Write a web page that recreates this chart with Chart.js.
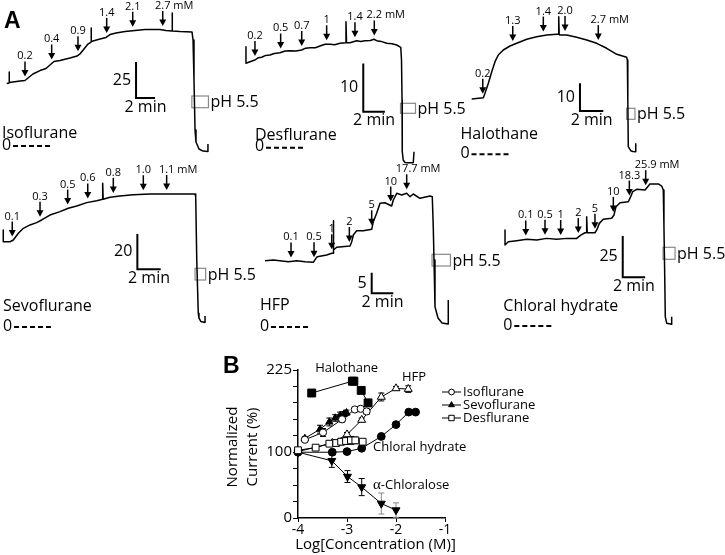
<!DOCTYPE html>
<html>
<head>
<meta charset="utf-8">
<script src="https://cdn.jsdelivr.net/npm/chart.js@4.4.1/dist/chart.umd.min.js"></script>
<style>
  body { margin: 0; background: #fff; width: 725px; height: 555px; position: relative; overflow: hidden; }
  canvas { position: absolute; }
</style>
</head>
<body>
<canvas id="cIso" width="280" height="165" style="left:0;top:0"></canvas>
<canvas id="cDes" width="280" height="165" style="left:230px;top:0"></canvas>
<canvas id="cHal" width="265" height="165" style="left:460px;top:0"></canvas>
<canvas id="cSev" width="280" height="180" style="left:0;top:160px"></canvas>
<canvas id="cHfp" width="280" height="180" style="left:230px;top:160px"></canvas>
<canvas id="cChl" width="265" height="180" style="left:460px;top:160px"></canvas>
<canvas id="cDose" width="360" height="215" style="left:200px;top:340px"></canvas>
<script>
// ---- panel A: current traces, [time (min), current] ----
var isoTrace = [[0.71,42.7],[0.95,43.1],[0.95,50.7],[1.0,43.4],[2.11,44.4],[2.63,44.8],[2.95,46.5],[3.47,49.3],[4.21,51.7],[4.84,53.1],[5.26,55.6],[5.68,58.0],[6.32,58.7],[7.37,60.4],[8.11,61.8],[8.42,63.2],[8.84,66.7],[9.26,70.1],[9.58,71.5],[9.58,81.3],[9.63,71.9],[10.53,73.6],[11.16,74.7],[11.58,76.7],[12.21,77.8],[13.16,78.8],[14.21,79.5],[15.26,80.2],[16.84,80.2],[17.47,79.5],[18.11,79.2],[18.11,91.7],[18.16,79.2],[18.95,78.8],[20.21,78.5],[20.32,72.9],[20.42,45.1],[20.53,10.4],[20.63,2.1],[20.95,-2.8],[21.37,-4.2],[21.89,-4.5],[21.89,0.7]];
var isoDoses = ['0.2','0.4','0.9','1.4','2.1','2.7'];
var isoDoseTimes = [2.63, 5.44, 8.21, 11.23, 13.97, 17.13];

var desTrace = [[1.48,20.70],[1.48,17.27],[1.85,17.60],[2.31,17.95],[2.6,18.4],[2.94,18.51],[3.3,18.9],[3.70,18.99],[4.1,19.3],[4.63,19.46],[5.1,19.8],[5.56,19.88],[6.1,19.8],[6.64,20.02],[7.0,20.4],[7.41,20.50],[7.9,20.5],[8.33,20.85],[8.8,21.2],[9.26,21.20],[9.7,21.1],[10.19,21.41],[10.74,21.53],[10.74,25.88],[10.79,21.53],[11.11,21.53],[11.73,21.95],[12.1,21.8],[12.50,21.95],[13.0,22.0],[13.33,22.24],[13.58,21.95],[14.0,21.8],[14.51,21.41],[15.0,21.3],[15.44,21.06],[15.81,20.58],[15.88,17.95],[15.93,9.67],[15.95,-1.04],[16.04,-2.75],[16.20,-3.27],[16.51,-3.31],[16.97,-3.31],[17.04,-1.04]];
var desDoses = ['0.2','0.5','0.7','1','1.4','2.2'];
var desDoseTimes = [2.31, 4.69, 6.64, 8.95, 11.57, 13.36];

var halTrace = [[1.00,19.6],[2.00,20.07],[2.14,21.66],[2.43,25.27],[2.72,29.46],[3.00,33.07],[3.28,35.49],[3.71,37.29],[4.28,38.74],[4.86,39.71],[5.72,41.16],[6.57,42.09],[7.43,42.71],[8.29,42.96],[8.46,42.96],[8.46,49.31],[8.50,42.89],[8.57,42.71],[9.14,42.71],[10.00,41.88],[10.86,40.90],[11.71,39.71],[12.57,37.91],[13.43,35.74],[14.28,34.66],[14.34,33.68],[14.38,19.24],[14.42,2.38],[14.63,0.94],[14.82,0.65],[15.06,0.58],[15.06,3.61]];
var halDoses = ['0.2','1.3','1.4','2.0','2.7'];
var halDoseTimes = [1.95, 4.52, 7.14, 9.00, 11.85];

var sevTrace = [[0.28,54.2],[0.28,47.6],[0.86,47.6],[1.14,48.6],[1.57,52.4],[2.00,55.2],[2.57,57.1],[3.14,58.4],[3.57,59.9],[4.28,62.7],[5.14,64.6],[5.85,66.5],[6.57,67.8],[7.43,69.7],[8.29,70.8],[8.80,71.6],[8.80,80.6],[8.84,71.6],[9.43,72.7],[10.28,73.4],[11.42,74.2],[12.85,74.6],[14.28,74.6],[15.71,74.6],[16.71,74.6],[16.77,73.1],[16.86,37.3],[16.99,7.2],[17.05,4.5],[17.22,2.5],[17.57,2.0],[17.57,5.6]];
var sevDoses = ['0.1','0.3','0.5','0.6','0.8','1.0','1.1'];
var sevDoseTimes = [1.05, 3.43, 5.80, 7.52, 9.71, 12.28, 14.28];

var hfpTrace = [[3.24,15.81],[4.01,15.98],[4.63,15.81],[5.40,15.57],[6.18,15.81],[6.94,15.57],[7.71,15.42],[7.96,16.39],[8.08,16.78],[8.95,17.19],[9.42,17.60],[9.56,17.60],[9.56,25.50],[9.61,18.40],[9.88,19.06],[11.11,19.37],[11.27,20.41],[11.42,22.03],[11.73,23.08],[12.34,23.08],[13.12,23.41],[13.27,25.25],[13.58,27.29],[13.89,29.71],[14.35,29.85],[14.97,29.06],[15.12,30.51],[15.44,32.13],[15.90,31.72],[16.36,32.13],[16.67,31.31],[16.97,31.96],[17.59,30.92],[18.52,31.48],[18.73,31.31],[18.82,24.04],[18.89,15.98],[18.98,4.67],[19.26,1.94],[19.63,0.73],[20.19,0.48],[20.21,6.30]];
var hfpDoses = ['0.1','0.5','1','2','5','10','17.7'];
var hfpDoseTimes = [5.65, 7.78, 9.42, 11.05, 13.12, 14.88, 16.36];

var chlTrace = [[4.02,57.6],[4.02,48.5],[4.31,50.5],[5.06,51.1],[5.96,51.9],[6.85,51.5],[7.74,52.5],[8.63,51.9],[9.53,52.5],[10.42,52.5],[10.78,54.5],[11.16,55.9],[11.31,55.9],[11.31,65.6],[11.36,55.9],[11.46,55.9],[12.05,55.9],[12.21,57.6],[12.44,61.6],[12.79,64.1],[13.54,64.7],[13.75,66.7],[13.93,71.7],[14.29,74.1],[15.03,74.7],[15.24,77.8],[15.42,80.8],[15.78,82.2],[16.52,81.8],[16.76,83.8],[16.96,85.5],[17.71,85.5],[18.01,84.2],[18.15,81.8],[18.21,59.6],[18.28,29.3],[18.33,5.0],[18.46,1.0],[18.90,0.4],[18.90,5.0]];
var chlDoses = ['0.1','0.5','1','2','5','10','18.3','25.9'];
var chlDoseTimes = [5.87, 7.59, 8.99, 10.56, 12.05, 13.69, 15.12, 16.58];

// scale bars: current units per panel, minutes
var barCurrents = [25, 10, 10, 20, 5, 25];
var barMinutes = 2;

// ---- panel B: log concentration (M), normalized current (%), SEM ----
var isoLogC = [-3.86, -3.49, -3.10, -2.84, -2.72, -2.60];
var isoPct = [119, 130, 150, 165, 166, 162];
var isoSem = [3, 6, 4, 3, 3, 4];
var sevLogC = [-3.86, -3.55, -3.36, -3.24, -3.14, -3.06, -3.01];
var sevPct = [121, 135, 146, 152, 156, 158, 160];
var sevSem = [3, 6, 6, 5, 5, 4, 4];
var desLogC = [-4, -3.64, -3.36, -3.22, -3.12, -3.02, -2.92, -2.83, -2.68];
var desPct = [103, 107, 113, 114, 116, 117, 118, 118, 116];
var desSem = [2, 3, 4, 4, 5, 5, 6, 5, 3];
var halLogC = [-3.72, -2.89, -2.86, -2.71, -2.57];
var halPct = [190, 208, 208, 194, 175];
var halSem = [5, 3, 3, 3, 4];
var hfpLogC = [-4, -3.30, -3.00, -2.70, -2.30, -2.00, -1.75];
var hfpPct = [101, 114, 127, 149, 184, 197, 196];
var hfpSem = [0, 3, 3, 3, 6, 3, 5];
var chlLogC = [-4, -3.30, -3.00, -2.70, -2.30, -2.00, -1.74, -1.60];
var chlPct = [100, 100, 101, 106, 124, 142, 161, 161];
var chlSem = [0, 4, 2, 2, 2, 2, 2, 2];
var aclLogC = [-4, -3.31, -2.99, -2.70, -2.30, -2.00];
var aclPct = [100, 87, 63, 47, 22, 12];
var aclSem = [0, 10, 9, 13, 16, 11];

var yTickLabels = [0, 100, 225];

Chart.defaults.font.family = '"Open Sans", sans-serif';
Chart.defaults.color = '#000';

var FONT = '"Open Sans", sans-serif';

function valueAt(trace, t){
    for (var i = 0; i < trace.length - 1; i++) {
        var a = trace[i], b = trace[i + 1];
        if (t >= a[0] && t <= b[0] && b[0] > a[0]) {
            return a[1] + (b[1] - a[1]) * (t - a[0]) / (b[0] - a[0]);
        }
    }
    return trace[trace.length - 1][1];
}

function drawArrow(ctx, x, tip, label, unit){
    var len = 15;
    ctx.lineWidth = 1.5;
    ctx.beginPath();
    ctx.moveTo(x, tip - len);
    ctx.lineTo(x, tip - 5);
    ctx.stroke();
    ctx.beginPath();
    ctx.moveTo(x - 3.5, tip - 6.5);
    ctx.lineTo(x + 3.5, tip - 6.5);
    ctx.lineTo(x, tip);
    ctx.closePath();
    ctx.fill();
    ctx.font = '11px ' + FONT;
    ctx.textAlign = 'left';
    ctx.textBaseline = 'alphabetic';
    var w = ctx.measureText(label).width;
    ctx.fillText(label + unit, x - w / 2, tip - len - 2);
}

// layout of each trace panel (page pixels, anchors)
var panels = [
    {id:'cIso', trace:isoTrace, doses:isoDoses, times:isoDoseTimes, bar:0, pxPerMin:9.5, pxPerUnit:1.44, zeroY:145,
     barAt:[14.32, 32.6], dropTime:20.3, ph:[96, 16.6, 11.7], name:'Isoflurane', nameAt:[2, 133], zeroAt:[2, 145], letter:'A'},
    {id:'cDes', trace:desTrace, doses:desDoses, times:desDoseTimes, bar:1, pxPerMin:10.8, pxPerUnit:4.83, zeroY:146.7,
     barAt:[12.34, 7.25], dropTime:15.88, ph:[103.3, 15, 10], name:'Desflurane', nameAt:[25, 135], zeroAt:[25, 146.7]},
    {id:'cHal', trace:halTrace, doses:halDoses, times:halDoseTimes, bar:2, pxPerMin:11.67, pxPerUnit:2.77, zeroY:153.3,
     barAt:[10.28, 15.27], dropTime:14.36, ph:[108.3, 8.4, 11], name:'Halothane', nameAt:[0.5, 134], zeroAt:[0.5, 153.3]},
    {id:'cSev', trace:sevTrace, doses:sevDoses, times:sevDoseTimes, bar:3, pxPerMin:11.67, pxPerUnit:1.77, zeroY:166,
     barAt:[11.77, 32.0], dropTime:16.8, ph:[108.3, 10.6, 11.7], name:'Sevoflurane', nameAt:[3, 146.7], zeroAt:[3, 166]},
    {id:'cHfp', trace:hfpTrace, doses:hfpDoses, times:hfpDoseTimes, bar:4, pxPerMin:10.8, pxPerUnit:4.13, zeroY:166,
     barAt:[13.12, 7.92], dropTime:18.8, ph:[94.3, 18.4, 11.7], name:'HFP', nameAt:[30, 145], zeroAt:[30, 166]},
    {id:'cChl', trace:chlTrace, doses:chlDoses, times:chlDoseTimes, bar:5, pxPerMin:11.2, pxPerUnit:1.65, zeroY:165,
     barAt:[14.53, 28.9], dropTime:18.22, ph:[87.3, 12, 12], name:'Chloral hydrate', nameAt:[43.3, 146.7], zeroAt:[43.3, 165]}
];

function tracePlugin(p){
    return {
        id: 'trace_' + p.id,
        beforeDatasetsDraw: function(chart){
            var ctx = chart.ctx;
            var dx = chart.scales.x.getPixelForValue(p.dropTime) - 1;
            ctx.save();
            ctx.fillStyle = '#fff';
            ctx.strokeStyle = '#888';
            ctx.lineWidth = 1.2;
            ctx.fillRect(dx, p.ph[0], p.ph[1], p.ph[2]);
            ctx.strokeRect(dx, p.ph[0], p.ph[1], p.ph[2]);
            ctx.fillStyle = '#000';
            ctx.font = '16px ' + FONT;
            ctx.textAlign = 'left';
            ctx.textBaseline = 'middle';
            ctx.fillText('pH 5.5', dx + p.ph[1] + 2, p.ph[0] + p.ph[2] / 2 + 1);
            ctx.restore();
        },
        afterDatasetsDraw: function(chart){
            var ctx = chart.ctx, sx = chart.scales.x, sy = chart.scales.y;
            ctx.save();
            ctx.fillStyle = '#000';
            ctx.strokeStyle = '#000';
            p.times.forEach(function(t, k){
                var x = sx.getPixelForValue(t);
                var tip = sy.getPixelForValue(valueAt(p.trace, t)) - 4;
                drawArrow(ctx, x, tip, p.doses[k], k === p.doses.length - 1 ? ' mM' : '');
            });
            // scale bar labels
            var cur = barCurrents[p.bar];
            var bx = sx.getPixelForValue(p.barAt[0]);
            var bx2 = sx.getPixelForValue(p.barAt[0] + barMinutes);
            var by = sy.getPixelForValue(p.barAt[1]);
            var byTop = sy.getPixelForValue(p.barAt[1] + cur);
            ctx.font = '16px ' + FONT;
            ctx.textAlign = 'right';
            ctx.textBaseline = 'middle';
            ctx.fillText(String(cur), bx - 5, (by + byTop) / 2);
            ctx.textAlign = 'center';
            ctx.textBaseline = 'top';
            ctx.fillText(barMinutes + ' min', (bx + bx2) / 2, by + 1);
            // drug name and zero level
            ctx.textAlign = 'left';
            ctx.textBaseline = 'middle';
            ctx.fillText(p.name, p.nameAt[0], p.nameAt[1]);
            ctx.fillText('0', p.zeroAt[0], p.zeroAt[1]);
            ctx.lineWidth = 2;
            ctx.setLineDash([5, 3]);
            ctx.beginPath();
            ctx.moveTo(p.zeroAt[0] + 11, p.zeroAt[1] + 1);
            ctx.lineTo(p.zeroAt[0] + 50, p.zeroAt[1] + 1);
            ctx.stroke();
            ctx.setLineDash([]);
            if (p.letter) {
                ctx.font = 'bold 23px "Liberation Sans", Arial, sans-serif';
                ctx.textBaseline = 'alphabetic';
                ctx.fillText(p.letter, 4, 28);
            }
            ctx.restore();
        }
    };
}

panels.forEach(function(p){
    var canvas = document.getElementById(p.id);
    var cur = barCurrents[p.bar];
    new Chart(canvas, {
        type: 'line',
        data: {
            datasets: [{
                data: p.trace.map(function(d){ return {x: d[0], y: d[1]}; }),
                borderColor: '#000',
                borderWidth: 1.5,
                pointRadius: 0,
                tension: 0,
                clip: false,
                borderJoinStyle: 'round'
            }, {
                data: [
                    {x: p.barAt[0], y: p.barAt[1] + cur},
                    {x: p.barAt[0], y: p.barAt[1]},
                    {x: p.barAt[0] + barMinutes, y: p.barAt[1]}
                ],
                borderColor: '#000',
                borderWidth: 2,
                pointRadius: 0,
                tension: 0,
                clip: false
            }]
        },
        options: {
            responsive: false,
            animation: false,
            events: [],
            layout: {padding: 0},
            scales: {
                x: {type: 'linear', display: false, min: 0, max: canvas.width / p.pxPerMin},
                y: {type: 'linear', display: false, max: p.zeroY / p.pxPerUnit, min: (p.zeroY - canvas.height) / p.pxPerUnit}
            },
            plugins: {legend: {display: false}, tooltip: {enabled: false}}
        },
        plugins: [tracePlugin(p)]
    });
});

// ---- panel B ----
function pts(xs, ys){
    return xs.map(function(x, i){ return {x: x, y: ys[i]}; });
}

var doseSeries = [
    {label: 'Isoflurane', x: isoLogC, y: isoPct, sem: isoSem, style: 'circle', r: 3.6, fill: '#fff'},
    {label: 'Sevoflurane', x: sevLogC, y: sevPct, sem: sevSem, style: 'triangle', r: 4.2, fill: '#000'},
    {label: 'Desflurane', x: desLogC, y: desPct, sem: desSem, style: 'rect', r: 4.8, fill: '#fff'},
    {label: 'Halothane', x: halLogC, y: halPct, sem: halSem, style: 'rect', r: 5.6, fill: '#000'},
    {label: 'HFP', x: hfpLogC, y: hfpPct, sem: hfpSem, style: 'triangle', r: 4.6, fill: '#fff'},
    {label: 'Chloral hydrate', x: chlLogC, y: chlPct, sem: chlSem, style: 'circle', r: 3.9, fill: '#000'},
    {label: 'α-Chloralose', x: aclLogC, y: aclPct, sem: aclSem, style: 'triangle', r: 4.6, fill: '#000', rot: 180, semColor: '#888'}
];

var curveLabels = [
    {text: 'Halothane', at: [-3.65, 228]},
    {text: 'HFP', at: [-1.88, 214]},
    {text: 'Chloral hydrate', at: [-2.47, 108]}
];

var doseExtras = {
    id: 'doseExtras',
    beforeDatasetsDraw: function(chart){
        var ctx = chart.ctx, sx = chart.scales.x, sy = chart.scales.y;
        ctx.save();
        ctx.lineWidth = 1;
        doseSeries.forEach(function(s){
            s.x.forEach(function(v, i){
                if (!s.sem[i]) return;
                var x = sx.getPixelForValue(v);
                var y1 = sy.getPixelForValue(s.y[i] - s.sem[i]);
                var y2 = sy.getPixelForValue(s.y[i] + s.sem[i]);
                ctx.strokeStyle = (s.semColor && i >= 4) ? s.semColor : '#000';
                ctx.beginPath();
                ctx.moveTo(x, y1); ctx.lineTo(x, y2);
                ctx.moveTo(x - 3, y1); ctx.lineTo(x + 3, y1);
                ctx.moveTo(x - 3, y2); ctx.lineTo(x + 3, y2);
                ctx.stroke();
            });
        });
        ctx.restore();
    },
    afterDraw: function(chart){
        var ctx = chart.ctx, sx = chart.scales.x, sy = chart.scales.y, area = chart.chartArea;
        ctx.save();
        ctx.fillStyle = '#000';
        ctx.strokeStyle = '#000';
        // panel letter
        ctx.font = 'bold 23px "Liberation Sans", Arial, sans-serif';
        ctx.textAlign = 'left';
        ctx.textBaseline = 'alphabetic';
        ctx.fillText('B', 23, 33);
        // axis titles
        ctx.font = '15px ' + FONT;
        ctx.textAlign = 'center';
        ctx.textBaseline = 'middle';
        ctx.fillText('Log[Concentration (M)]', (area.left + area.right) / 2 + 4, chart.height - 10);
        ctx.save();
        ctx.translate(area.left - 65, (area.top + area.bottom) / 2 + 3);
        ctx.rotate(-Math.PI / 2);
        ctx.fillText('Normalized', 0, 0);
        ctx.fillText('Current (%)', 0, 20);
        ctx.restore();
        // curve labels
        ctx.font = '13px ' + FONT;
        ctx.textAlign = 'left';
        curveLabels.forEach(function(l){
            ctx.fillText(l.text, sx.getPixelForValue(l.at[0]), sy.getPixelForValue(l.at[1]));
        });
        var ax = sx.getPixelForValue(-2.47), ay = sy.getPixelForValue(50);
        ctx.font = '15px "Liberation Serif", serif';
        ctx.fillText('α', ax, ay);
        var aw = ctx.measureText('α').width;
        ctx.font = '13px ' + FONT;
        ctx.fillText('-Chloralose', ax + aw, ay);
        // legend
        for (var k = 0; k < 3; k++) {
            var s = doseSeries[k];
            var ly = area.top + 22 + k * 13;
            var lx = area.right - 3;
            ctx.lineWidth = 1;
            ctx.beginPath();
            ctx.moveTo(lx, ly); ctx.lineTo(lx + 19, ly);
            ctx.stroke();
            drawMarker(ctx, s, lx + 9.5, ly, 0.8);
            ctx.fillStyle = '#000';
            ctx.fillText(s.label, lx + 21, ly);
        }
        ctx.restore();
    }
};

function drawMarker(ctx, s, x, y, k){
    var r = s.r * k;
    ctx.fillStyle = s.fill;
    ctx.strokeStyle = '#000';
    ctx.lineWidth = 1;
    ctx.beginPath();
    if (s.style === 'circle') {
        ctx.arc(x, y, r, 0, Math.PI * 2);
    } else if (s.style === 'rect') {
        var h = r * Math.SQRT1_2;
        ctx.rect(x - h, y - h, 2 * h, 2 * h);
    } else {
        ctx.moveTo(x, y - r);
        ctx.lineTo(x + r * 0.87, y + r * 0.5);
        ctx.lineTo(x - r * 0.87, y + r * 0.5);
        ctx.closePath();
    }
    ctx.fill();
    ctx.stroke();
}

new Chart(document.getElementById('cDose'), {
    type: 'line',
    data: {
        datasets: doseSeries.map(function(s){
            return {
                label: s.label,
                data: pts(s.x, s.y),
                borderColor: '#000',
                borderWidth: 1,
                tension: 0,
                clip: false,
                pointStyle: s.style,
                pointRadius: s.r,
                pointRotation: s.rot || 0,
                pointBackgroundColor: s.fill,
                pointBorderColor: '#000',
                pointBorderWidth: 1
            };
        })
    },
    options: {
        responsive: false,
        animation: false,
        events: [],
        layout: {padding: {left: 0, top: 30, right: 115, bottom: 0}},
        scales: {
            x: {
                type: 'linear', min: -4, max: -1,
                afterFit: function(scale){ scale.height = 37; },
                ticks: {stepSize: 1, autoSkip: false, padding: 0, font: {size: 14}, color: '#000',
                        callback: function(v){ return String(v); }},
                grid: {drawOnChartArea: false, drawTicks: true, tickLength: 4, color: '#000'},
                border: {color: '#000', width: 1.5}
            },
            y: {
                type: 'linear', min: 0, max: 225,
                afterFit: function(scale){ scale.width = 98; },
                ticks: {stepSize: 25, autoSkip: false, padding: 1, font: {size: 15}, color: '#000',
                        callback: function(v){ return yTickLabels.indexOf(v) >= 0 ? String(v) : ''; }},
                grid: {drawOnChartArea: false, drawTicks: true, tickLength: 5, color: '#000'},
                border: {color: '#000', width: 1.5}
            }
        },
        plugins: {legend: {display: false}, tooltip: {enabled: false}}
    },
    plugins: [doseExtras]
});
</script>
</body>
</html>
